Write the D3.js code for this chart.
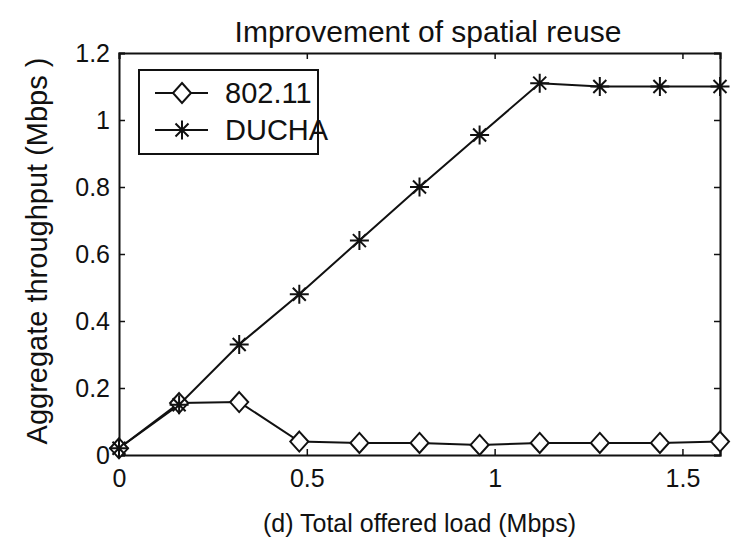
<!DOCTYPE html>
<html>
<head>
<meta charset="utf-8">
<script src="https://cdn.jsdelivr.net/npm/d3@7"></script>
<style>
  html, body { margin: 0; padding: 0; background: #fff; }
  svg { display: block; }
  text { font-family: "Liberation Sans", Arial, Helvetica, sans-serif; fill: #111; }
</style>
</head>
<body>
<svg id="chart" width="734" height="537"></svg>
<script>
// Offered load (Mbps) at each simulation point
const load = [0, 0.16, 0.32, 0.48, 0.64, 0.80, 0.96, 1.12, 1.28, 1.44, 1.60];
// Aggregate throughput (Mbps) per protocol
const thr80211 = [0.02, 0.155, 0.158, 0.04, 0.036, 0.036, 0.03, 0.036, 0.036, 0.036, 0.04];
const thrDucha = [0.02, 0.15, 0.33, 0.48, 0.64, 0.80, 0.955, 1.11, 1.10, 1.10, 1.10];
const seriesNames = ["802.11", "DUCHA"];
const xTicks = [0, 0.5, 1, 1.5];
const yTicks = [0, 0.2, 0.4, 0.6, 0.8, 1, 1.2];

const svg = d3.select("#chart");
const L = 119, R = 720, T = 53, B = 455;

const x = d3.scaleLinear().domain([0, 1.6]).range([L, R]);
const y = d3.scaleLinear().domain([0, 1.2]).range([B, T]);

const fmt = d => (d === 0 ? "0" : String(+d.toFixed(1)));

// Axes: box with inward ticks on all four sides
const tickLen = 6;
svg.append("g").attr("transform", `translate(0,${B})`)
  .call(d3.axisBottom(x).tickValues(xTicks).tickSize(-tickLen).tickPadding(14).tickFormat(fmt))
  .call(g => g.selectAll("text").attr("font-size", 25).attr("dy", "0.71em"));
svg.append("g").attr("transform", `translate(0,${T})`)
  .call(d3.axisTop(x).tickValues(xTicks).tickSize(-tickLen).tickFormat(""));
svg.append("g").attr("transform", `translate(${L},0)`)
  .call(d3.axisLeft(y).tickValues(yTicks).tickSize(-tickLen).tickPadding(9).tickFormat(fmt))
  .call(g => g.selectAll("text").attr("font-size", 25));
svg.append("g").attr("transform", `translate(${R},0)`)
  .call(d3.axisRight(y).tickValues(yTicks).tickSize(-tickLen).tickFormat(""));

svg.selectAll(".domain").attr("stroke", "#111").attr("stroke-width", 2);
svg.selectAll(".tick line").attr("stroke", "#111").attr("stroke-width", 1.5);

// Titles
svg.append("text").attr("x", 428).attr("y", 42).attr("text-anchor", "middle")
  .attr("font-size", 30).text("Improvement of spatial reuse");
svg.append("text").attr("x", (L + R) / 2).attr("y", 532).attr("text-anchor", "middle")
  .attr("font-size", 25).text("(d) Total offered load (Mbps)");
svg.append("text").attr("transform", "translate(47,251) rotate(-90)").attr("text-anchor", "middle")
  .attr("font-size", 29).text("Aggregate throughput (Mbps )");

// Marker shapes
function diamond(g, cx, cy) {
  g.append("path")
    .attr("d", `M${cx},${cy - 10}L${cx + 9},${cy}L${cx},${cy + 10}L${cx - 9},${cy}Z`)
    .attr("fill", "#fff").attr("stroke", "#111").attr("stroke-width", 2);
}
function star(g, cx, cy) {
  const s = 9.5, d = 6.5;
  g.append("path")
    .attr("d", `M${cx - s},${cy}H${cx + s}M${cx},${cy - s}V${cy + s}` +
      `M${cx - d},${cy - d}L${cx + d},${cy + d}M${cx - d},${cy + d}L${cx + d},${cy - d}`)
    .attr("fill", "none").attr("stroke", "#111").attr("stroke-width", 2);
}

const line = d3.line().x(d => x(d[0])).y(d => y(d[1]));
const data80211 = load.map((v, i) => [v, thr80211[i]]);
const dataDucha = load.map((v, i) => [v, thrDucha[i]]);

const plot = svg.append("g");
plot.append("path").datum(dataDucha).attr("d", line)
  .attr("fill", "none").attr("stroke", "#111").attr("stroke-width", 2);
plot.append("path").datum(data80211).attr("d", line)
  .attr("fill", "none").attr("stroke", "#111").attr("stroke-width", 2);
data80211.forEach(d => diamond(plot, x(d[0]), y(d[1])));
dataDucha.forEach(d => star(plot, x(d[0]), y(d[1])));

// Legend
const lg = svg.append("g");
lg.append("rect").attr("x", 139).attr("y", 70).attr("width", 179).attr("height", 84)
  .attr("fill", "#fff").attr("stroke", "#111").attr("stroke-width", 2);
const rows = [93, 130];
rows.forEach((ry, i) => {
  lg.append("line").attr("x1", 155).attr("x2", 208).attr("y1", ry).attr("y2", ry)
    .attr("stroke", "#111").attr("stroke-width", 2);
  if (i === 0) diamond(lg, 182, ry); else star(lg, 182, ry);
  lg.append("text").attr("x", 225).attr("y", ry).attr("dy", "0.36em")
    .attr("font-size", 29).text(seriesNames[i]);
});
</script>
</body>
</html>
